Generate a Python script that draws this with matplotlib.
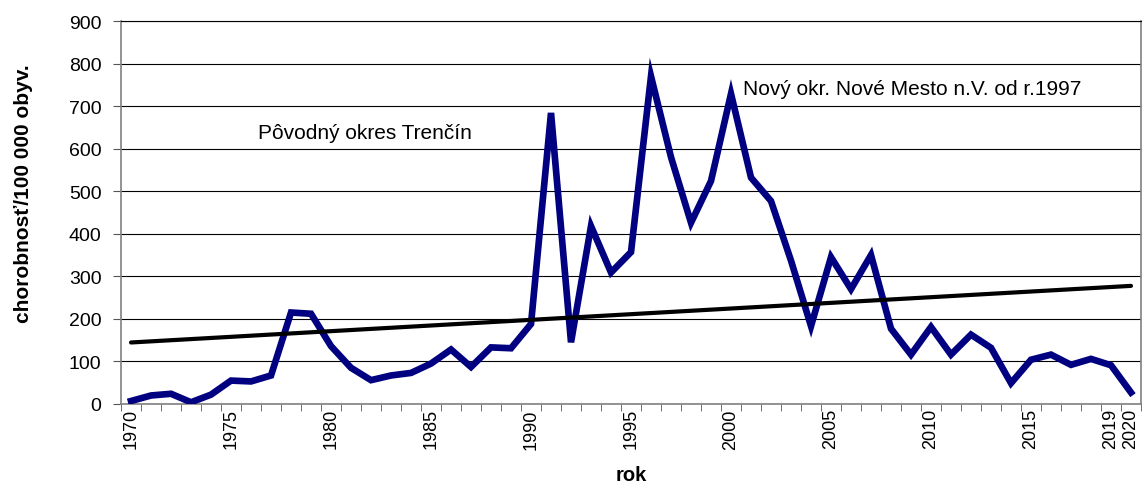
import matplotlib.pyplot as plt
import numpy as np

plt.rcParams['font.family'] = ['Liberation Sans', 'DejaVu Sans']

years = list(range(1970, 2021))
incidence = [7, 20, 24, 4, 22, 55, 53, 67, 215, 212,
             136, 85, 56, 67, 73, 95, 128, 87, 133, 131,
             188, 684, 145, 418, 309, 357, 770, 580, 426, 524,
             729, 532, 477, 337, 183, 345, 270, 350, 177, 116,
             181, 116, 163, 132, 49, 104, 116, 92, 106, 91,
             27]
shown_labels = [1970, 1975, 1980, 1985, 1990, 1995, 2000, 2005, 2010, 2015, 2019, 2020]

x = np.array(years)
y = np.array(incidence)
# linear trend like the Excel trendline
k, q = np.polyfit(x, y, 1)

fig = plt.figure(figsize=(11.45, 4.89), dpi=100)
ax = fig.add_axes([0.1057, 0.1718, 0.8908, 0.7832])

ax.grid(axis='y', color='black', linewidth=0.8)
ax.set_axisbelow(True)
ax.plot(x, y, color='#000080', linewidth=4.8, solid_joinstyle='miter', zorder=3)
ax.plot(x, k * x + q, color='black', linewidth=3, solid_capstyle='round', zorder=4)

ax.set_xlim(1969.5, 2020.5)
ax.set_ylim(0, 900)
ax.set_yticks(range(0, 901, 100))
ax.set_xticks(shown_labels)
ax.set_xticklabels([str(v) for v in shown_labels], rotation=90, fontsize=13)
ax.set_xticks(np.arange(1969.5, 2021, 1), minor=True)
ax.tick_params(axis='x', which='major', length=0, pad=3)
ax.tick_params(axis='x', which='minor', length=5, color='#555555')
ax.tick_params(axis='y', length=6, labelsize=14, pad=8, color='#555555')

for side in ['left', 'bottom', 'right']:
    ax.spines[side].set_color('#808080')
    ax.spines[side].set_linewidth(1.2)
ax.spines['top'].set_color('black')
ax.spines['top'].set_linewidth(0.8)

ax.set_xlabel('rok', fontsize=14.5, fontweight='bold', labelpad=12)
ax.set_ylabel('chorobnosť/100 000 obyv.', fontsize=15, fontweight='bold')
ax.yaxis.set_label_coords(-0.086, 0.553)

ax.text(1976.35, 637, 'Pôvodný okres Trenčín', fontsize=15, va='center')
ax.text(2000.6, 742, 'Nový okr. Nové Mesto n.V. od r.1997', fontsize=15, va='center')

fig.savefig('out.png', dpi=100)
